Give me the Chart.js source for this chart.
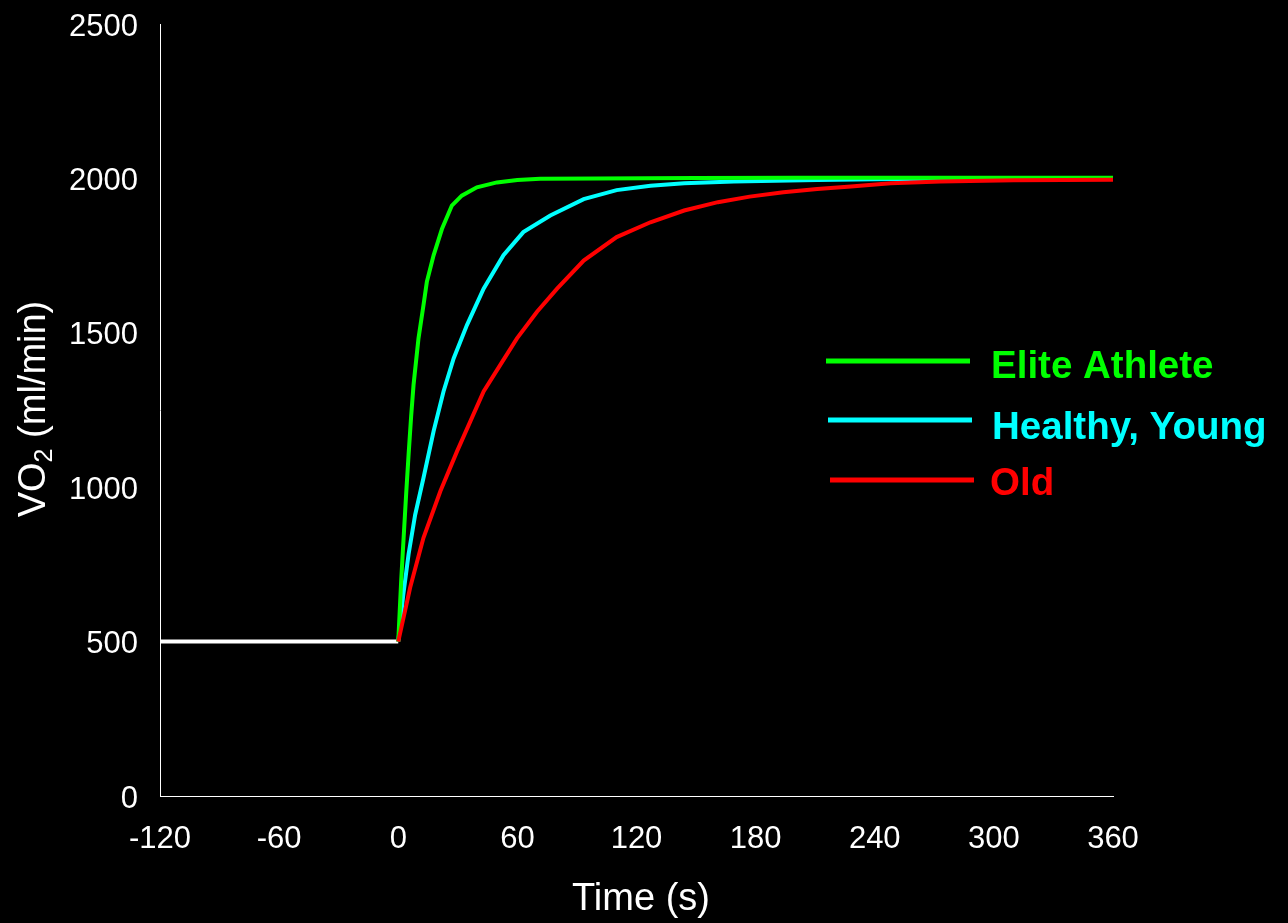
<html>
<head>
<script src="https://cdn.jsdelivr.net/npm/chart.js@4.4.0/dist/chart.umd.min.js"></script>
<style>
	body { margin: 0; background: #000; }
	canvas { display: block; }
</style>
</head>
<body>
<canvas id="myChart" width="1288" height="923"></canvas>
<script>
	// values: time in s, VO2 in ml/min
	var baseTime = [-120, 0];
	var baseVO2 = [500, 500];

	var eliteTime = [0, 1.5, 2.7, 4, 5.2, 6.5, 7.7, 10.2, 12.7, 14.4, 17.8, 22, 27, 32, 39.6, 49.7, 60, 71.5, 100, 150, 200, 250, 300, 360];
	var eliteVO2 = [500, 700, 836, 980, 1105, 1230, 1331, 1482, 1589, 1665, 1751, 1836, 1912, 1944, 1971, 1987, 1995, 1999, 2000, 2001, 2002, 2002, 2002, 2002];

	var youngTime = [0, 2.5, 5.2, 8.5, 12.7, 17.8, 22.8, 27.9, 34.6, 43, 53, 63, 76.6, 93.4, 110, 127, 144, 169, 211, 250, 300, 360];
	var youngVO2 = [500, 650, 783, 910, 1030, 1181, 1310, 1417, 1525, 1643, 1751, 1826, 1880, 1933, 1962, 1976, 1984, 1990, 1995, 1998, 1999, 2000];

	var oldTime = [0, 6, 12.7, 21.2, 29.6, 36.3, 43, 51.4, 59.8, 69.9, 80, 93.4, 110, 127, 144, 161, 177, 194, 211, 228, 248, 273, 310, 360];
	var oldVO2 = [500, 675, 836, 987, 1116, 1213, 1310, 1396, 1482, 1568, 1643, 1734, 1810, 1858, 1896, 1923, 1941, 1955, 1966, 1974, 1984, 1990, 1994, 1996];

	var xTicks = [-120, -60, 0, 60, 120, 180, 240, 300, 360];
	var yTicks = [0, 500, 1000, 1500, 2000, 2500];

	var legendLabels = ['Elite Athlete', 'Healthy, Young', 'Old'];
	var legendColors = ['#00ff00', '#00ffff', '#ff0000'];

	function toPoints(xs, ys) {
		var pts = [];
		for (var i = 0; i < xs.length; ++i) {
			pts.push({x: xs[i], y: ys[i]});
		}
		return pts;
	}

	function lineSet(label, xs, ys, color, order) {
		return {
			label: label,
			data: toPoints(xs, ys),
			borderColor: color,
			borderWidth: 4,
			pointRadius: 0,
			tension: 0,
			fill: false,
			order: order
		};
	}

	var FONT = "'Liberation Sans', Arial, sans-serif";

	// legend and axis titles, drawn by hand (the y title has a subscript)
	var decorations = {
		id: 'decorations',
		afterDraw: function(chart) {
			var ctx = chart.ctx;
			ctx.save();

			var rows = [
				{x0: 826, x1: 970, y: 361, tx: 991, ty: 378},
				{x0: 828, x1: 972, y: 420, tx: 992, ty: 439},
				{x0: 830, x1: 974, y: 480, tx: 990, ty: 495}
			];
			ctx.font = 'bold 38.5px ' + FONT;
			ctx.textBaseline = 'alphabetic';
			ctx.textAlign = 'left';
			for (var i = 0; i < rows.length; ++i) {
				var r = rows[i];
				ctx.strokeStyle = legendColors[i];
				ctx.lineWidth = 5;
				ctx.beginPath();
				ctx.moveTo(r.x0, r.y);
				ctx.lineTo(r.x1, r.y);
				ctx.stroke();
				ctx.fillStyle = legendColors[i];
				ctx.fillText(legendLabels[i], r.tx, r.ty);
			}

			// x title
			ctx.fillStyle = '#fff';
			ctx.font = '38px ' + FONT;
			ctx.textAlign = 'center';
			ctx.fillText('Time (s)', 641, 910);

			// y title, rotated, with subscript 2
			var big = '38px ' + FONT, small = '25px ' + FONT;
			ctx.font = big;
			var wVO = ctx.measureText('VO').width;
			var wRest = ctx.measureText(' (ml/min)').width;
			ctx.font = small;
			var w2 = ctx.measureText('2').width;
			var total = wVO + w2 + wRest;
			ctx.translate(45, 409);
			ctx.rotate(-Math.PI / 2);
			ctx.textAlign = 'left';
			var sx = -total / 2;
			ctx.font = big;
			ctx.fillText('VO', sx, 0);
			ctx.font = small;
			ctx.fillText('2', sx + wVO, 7);
			ctx.font = big;
			ctx.fillText(' (ml/min)', sx + wVO + w2, 0);

			ctx.restore();
		}
	};

	function plain(v) { return String(v); }

	var ctx = document.getElementById('myChart').getContext('2d');
	var chart = new Chart(ctx, {
		type: 'line',
		data: {
			datasets: [
				lineSet('Old', oldTime, oldVO2, '#ff0000', 0),
				lineSet('Elite Athlete', eliteTime, eliteVO2, '#00ff00', 1),
				lineSet('Healthy, Young', youngTime, youngVO2, '#00ffff', 2),
				lineSet('Baseline', baseTime, baseVO2, '#ffffff', 3)
			]
		},
		options: {
			responsive: false,
			animation: false,
			layout: { padding: { left: 0, right: 175, top: 24, bottom: 0 } },
			plugins: {
				legend: { display: false },
				tooltip: { enabled: false }
			},
			scales: {
				x: {
					type: 'linear',
					min: -120,
					max: 360,
					afterBuildTicks: function(scale) {
						scale.ticks = xTicks.map(function(v) { return {value: v}; });
					},
					afterFit: function(scale) {
						scale.height = 127;
						scale.paddingLeft = 0;
						scale.paddingRight = 0;
					},
					ticks: { color: '#fff', font: { family: FONT, size: 31 }, padding: 25, maxRotation: 0, callback: plain },
					grid: { display: false, drawTicks: false },
					border: { color: '#fff', width: 1 }
				},
				y: {
					type: 'linear',
					min: 0,
					max: 2500,
					afterBuildTicks: function(scale) {
						scale.ticks = yTicks.map(function(v) { return {value: v}; });
					},
					afterFit: function(scale) {
						scale.width = 160;
						scale.paddingTop = 0;
						scale.paddingBottom = 0;
					},
					ticks: { color: '#fff', font: { family: FONT, size: 31 }, padding: 22, labelOffset: 3, callback: plain },
					grid: { display: false, drawTicks: false },
					border: { color: '#fff', width: 1 }
				}
			}
		},
		plugins: [decorations]
	});
</script>
</body>
</html>
